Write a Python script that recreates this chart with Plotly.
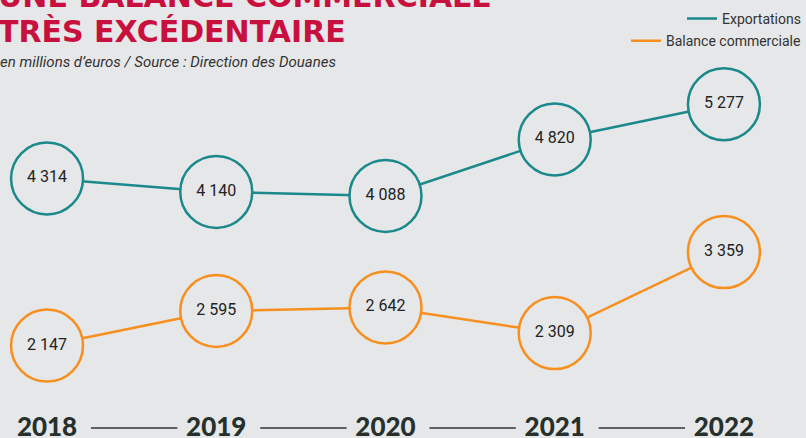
import plotly.graph_objects as go

years = ["2018", "2019", "2020", "2021", "2022"]
exportations = [4314, 4140, 4088, 4820, 5277]
balance = [2147, 2595, 2642, 2309, 3359]

BG = "#e6e7e9"
TEAL = "#1b898b"
ORANGE = "#f78f1e"
NUM_FONT = "Roboto, sans-serif"


def circles(y, color):
    return go.Scatter(
        x=years, y=y, mode="lines+markers+text",
        line=dict(color=color, width=2.5),
        marker=dict(size=72, color=BG, line=dict(color=color, width=2.5)),
        texttemplate="%{y:,}", textposition="middle center",
        textfont=dict(family=NUM_FONT, size=16, color="#222222"),
        showlegend=False, hoverinfo="skip", cliponaxis=False,
    )


def legend_entry(name, color, legend):
    return go.Scatter(x=[None], y=[None], mode="lines", name=name,
                      line=dict(color=color, width=2.5), legend=legend)


fig = go.Figure()
fig.add_trace(circles(exportations, TEAL))
fig.add_trace(circles(balance, ORANGE))
fig.add_trace(legend_entry("Exportations", TEAL, "legend"))
fig.add_trace(legend_entry("Balance commerciale", ORANGE, "legend2"))

# petits traits entre les années
for i in range(len(years) - 1):
    fig.add_shape(type="line", xref="x", yref="paper",
                  x0=i + 0.26, x1=i + 0.77, y0=-0.085, y1=-0.085,
                  line=dict(color="#333333", width=1.5))

title_font = dict(family="DejaVu Sans, sans-serif", size=30, color="#c8103e", weight=700)
fig.add_annotation(text="UNE BALANCE COMMERCIALE", xref="paper", yref="paper",
                   x=-0.005, y=1.222, xanchor="left", yanchor="middle",
                   showarrow=False, font=title_font)
fig.add_annotation(text="TRÈS EXCÉDENTAIRE", xref="paper", yref="paper",
                   x=-0.005, y=1.118, xanchor="left", yanchor="middle",
                   showarrow=False, font=title_font)
fig.add_annotation(text="<i>en millions d’euros / Source : Direction des Douanes</i>",
                   xref="paper", yref="paper", x=-0.002, y=1.024,
                   xanchor="left", yanchor="middle", showarrow=False,
                   font=dict(family=NUM_FONT, size=15, color="#333333"))

leg_font = dict(family=NUM_FONT, size=14, color="#333333")
fig.update_layout(
    width=806, height=438,
    margin=dict(l=0, r=0, t=70, b=38, autoexpand=False),
    paper_bgcolor=BG, plot_bgcolor=BG,
    separators=", ",
    legend=dict(xref="container", yref="container", x=1.004, y=0.957,
                xanchor="right", yanchor="middle",
                bgcolor="rgba(0,0,0,0)", font=leg_font, itemwidth=30),
    legend2=dict(xref="container", yref="container", x=1.004, y=0.906,
                 xanchor="right", yanchor="middle",
                 bgcolor="rgba(0,0,0,0)", font=leg_font, itemwidth=30),
    xaxis=dict(type="category", range=[-0.278, 4.485], showgrid=False,
               zeroline=False, showline=False, ticks="",
               tickfont=dict(family="Lato, Open Sans, sans-serif", size=26,
                             color="#26302c", weight=900),
               ticklabelstandoff=9),
    yaxis=dict(range=[1441, 5721], visible=False),
)

fig.write_html("out.html", config={"displayModeBar": False},
               post_script="document.body.style.margin = '0';")
